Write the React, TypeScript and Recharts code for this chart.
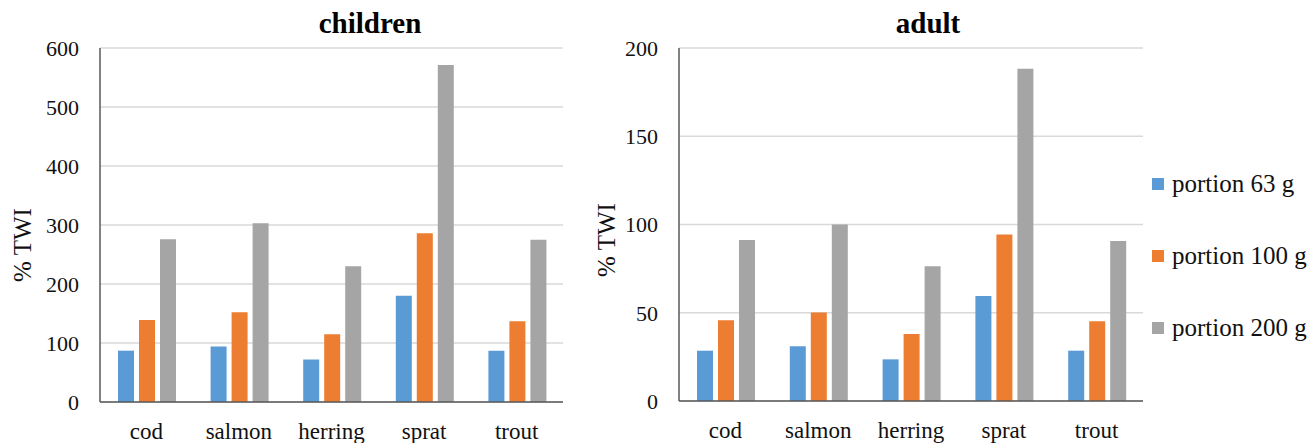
import { BarChart, Bar, XAxis, YAxis, CartesianGrid } from "recharts";

// fish species on the x axis
const FISH = ["cod", "salmon", "herring", "sprat", "trout"];

// % of tolerable weekly intake, children
const CHILD_63 = [87, 94, 72, 180, 87];
const CHILD_100 = [139, 152, 115, 286, 137];
const CHILD_200 = [276, 303, 230, 571, 275];

// % of tolerable weekly intake, adults
const ADULT_63 = [28.5, 31, 23.6, 59.5, 28.5];
const ADULT_100 = [45.7, 50.2, 38, 94.4, 45.2];
const ADULT_200 = [91.2, 100, 76.3, 188.3, 90.6];

const CHILD_TICKS = [0, 100, 200, 300, 400, 500, 600];
const ADULT_TICKS = [0, 50, 100, 150, 200];

const SERIES = [
  { key: "p63", name: "portion 63 g", color: "#5B9BD5" },
  { key: "p100", name: "portion 100 g", color: "#ED7D31" },
  { key: "p200", name: "portion 200 g", color: "#A5A5A5" },
];

const FONT = "Liberation Serif";

function rows(a: number[], b: number[], c: number[]) {
  return FISH.map((fish, i) => ({ fish, p63: a[i], p100: b[i], p200: c[i] }));
}

const childData = rows(CHILD_63, CHILD_100, CHILD_200);
const adultData = rows(ADULT_63, ADULT_100, ADULT_200);

function Panel({ data, ticks, left, right, bottom }: { data: any[]; ticks: number[]; left: number; right: number; bottom: number }) {
  return (
    <div style={{ position: "absolute", left, top: 0 }}>
      <BarChart
        width={600}
        height={443}
        data={data}
        margin={{ top: 48, right, bottom, left: 40 }}
        barCategoryGap={18}
        barGap={5}
      >
        <CartesianGrid vertical={false} stroke="#D9D9D9" strokeWidth={1.3} />
        <XAxis
          dataKey="fish"
          height={30}
          tickLine={false}
          tickSize={6}
          tickMargin={15}
          axisLine={{ stroke: "#595959", strokeWidth: 1.5 }}
          tick={{ fontSize: 23, fill: "#111", fontFamily: FONT }}
          interval={0}
        />
        <YAxis
          width={60}
          domain={[ticks[0], ticks[ticks.length - 1]]}
          ticks={ticks}
          tickLine={false}
          tickSize={6}
          tickMargin={15}
          axisLine={{ stroke: "#595959", strokeWidth: 1.5 }}
          tick={{ fontSize: 22, fill: "#111", fontFamily: FONT }}
        />
        {SERIES.map((s) => (
          <Bar key={s.key} dataKey={s.key} name={s.name} fill={s.color} isAnimationActive={false} />
        ))}
      </BarChart>
    </div>
  );
}

export default function App() {
  return (
    <div style={{ position: "absolute", left: 0, top: 0, width: 1312, height: 443, overflow: "hidden", background: "#fff", fontFamily: FONT }}>
      <Panel data={childData} ticks={CHILD_TICKS} left={0} right={37} bottom={11} />
      <Panel data={adultData} ticks={ADULT_TICKS} left={579} right={36} bottom={12} />

      {/* titles and axis titles */}
      <svg width={1312} height={443} style={{ position: "absolute", left: 0, top: 0, pointerEvents: "none" }}>
        <text x={370} y={33} textAnchor="middle" fontSize={29} fontWeight="bold" fontFamily={FONT} fill="#000">children</text>
        <text x={928} y={33} textAnchor="middle" fontSize={29} fontWeight="bold" fontFamily={FONT} fill="#000">adult</text>
        <text x={22} y={245} transform="rotate(-90 22 245)" textAnchor="middle" dominantBaseline="central" fontSize={25} fontFamily={FONT} fill="#111">% TWI</text>
        <text x={606} y={240} transform="rotate(-90 606 240)" textAnchor="middle" dominantBaseline="central" fontSize={25} fontFamily={FONT} fill="#111">% TWI</text>
      </svg>

      {/* legend */}
      {SERIES.map((s, i) => (
        <div key={s.key} style={{ position: "absolute", left: 1152, top: 184 + i * 72 - 15, height: 30, display: "flex", alignItems: "center", whiteSpace: "nowrap" }}>
          <div style={{ width: 12, height: 12, background: s.color, marginRight: 8 }} />
          <span style={{ fontSize: 25, color: "#111", lineHeight: "30px", fontFamily: FONT }}>{s.name}</span>
        </div>
      ))}
    </div>
  );
}
